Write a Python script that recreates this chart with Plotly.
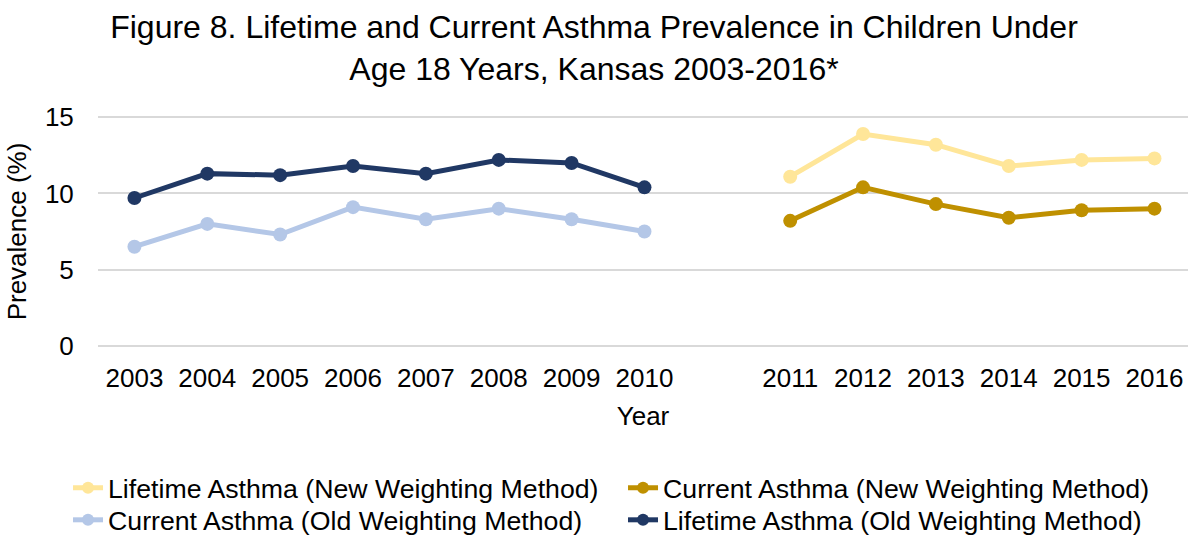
import plotly.graph_objects as go

years_old = ["2003", "2004", "2005", "2006", "2007", "2008", "2009", "2010"]
years_new = ["2011", "2012", "2013", "2014", "2015", "2016"]
gap_label = " "
category_order = years_old + [gap_label] + years_new

lifetime_new = [11.1, 13.9, 13.2, 11.8, 12.2, 12.3]
current_new = [8.2, 10.4, 9.3, 8.4, 8.9, 9.0]
current_old = [6.5, 8.0, 7.3, 9.1, 8.3, 9.0, 8.3, 7.5]
lifetime_old = [9.7, 11.3, 11.2, 11.8, 11.3, 12.2, 12.0, 10.4]

FONT = "Liberation Sans, Arial, sans-serif"

series = [
    ("Lifetime Asthma (New Weighting Method)", years_new, lifetime_new, "#FFE699", "legend"),
    ("Current Asthma (New Weighting Method)", years_new, current_new, "#BF9000", "legend"),
    ("Current Asthma (Old Weighting Method)", years_old, current_old, "#B4C7E7", "legend2"),
    ("Lifetime Asthma (Old Weighting Method)", years_old, lifetime_old, "#203864", "legend2"),
]

fig = go.Figure()
for name, xs, ys, color, lg in series:
    fig.add_trace(go.Scatter(
        x=xs, y=ys, name=name, mode="lines+markers",
        line=dict(color=color, width=5),
        marker=dict(color=color, size=14),
        legend=lg,
    ))

legend_common = dict(
    orientation="h", x=-0.0275, xanchor="left",
    entrywidth=510, entrywidthmode="pixels",
    font=dict(family=FONT, size=26.7, color="#000000"),
    itemsizing="constant", bgcolor="rgba(0,0,0,0)",
)

fig.update_layout(
    width=1188, height=544,
    paper_bgcolor="white", plot_bgcolor="white",
    font=dict(family=FONT, size=26, color="#000000"),
    title=dict(
        text="Figure 8. Lifetime and Current Asthma Prevalence in Children Under<br>Age 18 Years, Kansas 2003-2016*",
        x=0.5, xanchor="center", y=0.930, yanchor="top",
        font=dict(family=FONT, size=32, color="#000000"),
    ),
    margin=dict(l=98, r=0, t=115, b=196),
    showlegend=True,
    legend=dict(y=-0.600, yanchor="middle", **legend_common),
    legend2=dict(y=-0.841, yanchor="bottom", **legend_common),
    xaxis=dict(
        type="category", categoryorder="array", categoryarray=category_order,
        range=[-0.5, 14.46],
        showgrid=False, showline=False, zeroline=False,
        ticks="outside", ticklen=7, tickcolor="rgba(0,0,0,0)",
        tickfont=dict(family=FONT, size=26, color="#000000"),
        title=dict(text="Year", font=dict(family=FONT, size=26, color="#000000"), standoff=14),
    ),
    yaxis=dict(
        range=[-0.15, 15.15], tickvals=[0, 5, 10, 15],
        showgrid=True, gridcolor="#D9D9D9", gridwidth=1.5,
        zeroline=False, showline=False,
        ticks="outside", ticklen=18, tickcolor="rgba(0,0,0,0)",
        tickfont=dict(family=FONT, size=26, color="#000000"),
        title=dict(text="Prevalence (%)", font=dict(family=FONT, size=26, color="#000000"), standoff=10),
    ),
)

fig.write_html(
    "out.html",
    config={"displayModeBar": False},
    post_script="document.body.style.margin='0';document.body.style.overflow='hidden';",
)
